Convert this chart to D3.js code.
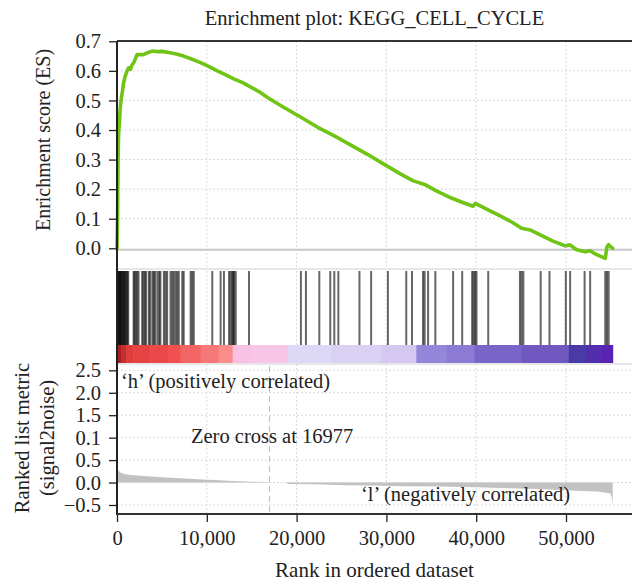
<!DOCTYPE html>
<html>
<head>
<meta charset="utf-8">
<script src="https://cdn.jsdelivr.net/npm/d3@7"></script>
<style>
  html, body { margin: 0; padding: 0; background: #fff; }
  svg { display: block; }
  text { font-family: "Liberation Serif", "DejaVu Serif", serif; fill: #222; }
</style>
</head>
<body>
<div id="chart"></div>
<script>
// ---------------- data ----------------
const title = "Enrichment plot: KEGG_CELL_CYCLE";
const totalGenes = 55200;
const zeroCross = 16977;

// running enrichment score
const esRanks = [0, 60, 120, 180, 260, 350, 450, 600, 740, 900, 1120, 1300, 1500, 1680, 1900, 2100, 2230, 2500, 2940, 3300, 3910, 4500, 5000, 5590, 6500, 7410, 8300, 9300, 10200, 11170, 12000, 13000, 14000, 14900, 15800, 16760, 18500, 20480, 22300, 24200, 26000, 27930, 29800, 31650, 33000, 34260, 35500, 37240, 38500, 39660, 39900, 41000, 42830, 44000, 45060, 46000, 47300, 48500, 49900, 50400, 51200, 52130, 52700, 53300, 54370, 54560, 54750, 55000, 55200];
const esValues = [0.0, 0.10, 0.30, 0.39, 0.42, 0.47, 0.50, 0.53, 0.56, 0.58, 0.60, 0.61, 0.605, 0.62, 0.63, 0.645, 0.655, 0.655, 0.655, 0.66, 0.667, 0.665, 0.666, 0.663, 0.658, 0.65, 0.64, 0.628, 0.615, 0.60, 0.588, 0.573, 0.56, 0.545, 0.53, 0.51, 0.478, 0.443, 0.41, 0.38, 0.35, 0.317, 0.283, 0.25, 0.228, 0.216, 0.195, 0.17, 0.155, 0.142, 0.152, 0.135, 0.107, 0.088, 0.068, 0.062, 0.043, 0.025, 0.008, 0.012, -0.005, -0.012, -0.008, -0.02, -0.034, 0.005, 0.012, 0.004, 0.0];

// gene set hit positions (rank)
const hitRanks = [30, 80, 150, 220, 300, 380, 450, 520, 600, 700, 780, 860, 950, 1050, 1150, 1250,
  1850, 1950, 2100, 2250, 2400, 2800, 2950, 3100, 3250, 3550, 3700, 3950, 4100, 4250,
  4500, 4700, 4830, 5220, 5400, 5580, 5960, 6150, 6320, 6520, 6700, 6880, 7270, 7430,
  8200, 8380, 8550, 10610, 11540, 11910, 12480, 12650, 12820, 12950, 13030, 13220, 14700,
  20480, 21040, 22530, 23750, 24200, 24650, 27000, 28300, 30170, 32210, 32850, 34080, 34260,
  34640, 35450, 37430, 38440, 39550, 39700, 39870, 40030, 41340, 44870, 45060, 45250,
  47180, 48160, 49980, 50460, 52070, 52690, 54370, 54560, 54750];

// heatmap bands of the ranked list (start rank, level: + = high, - = low)
const bandStarts = [0, 480, 1040, 1820, 3720, 5730, 7070, 9310, 11320, 12880, 14900, 19030, 23840, 29420, 33330, 36680, 39810, 45060, 50310, 52320, 54000];
const bandLevels = [10, 9, 8, 7, 6, 5, 4, 3, 2, 1, 0.5, -1, -1.5, -2, -5, -5.5, -6.5, -7, -9, -9.5, -10];

// ranked list metric (signal2noise)
const metricRanks = [0, 150, 400, 800, 1500, 3000, 5000, 7000, 9000, 10000, 11000, 12300, 13500, 15000, 16760, 16977, 18900, 19000, 22000, 25300, 28400, 32000, 36000, 40000, 43600, 47500, 51200, 53500, 54900, 55050, 55150, 55200];
const metricValues = [0.32, 0.27, 0.22, 0.19, 0.17, 0.145, 0.12, 0.095, 0.075, 0.065, 0.055, 0.04, 0.03, 0.02, 0.01, 0.0, 0.0, -0.03, -0.04, -0.06, -0.068, -0.08, -0.09, -0.105, -0.125, -0.15, -0.18, -0.2, -0.24, -0.3, -0.4, -0.52];

// axis tick labels
const esTicks = [0.0, 0.1, 0.2, 0.3, 0.4, 0.5, 0.6, 0.7];
const metricTicks = [2.5, 2.0, 1.5, 1.0, 0.5, 0.0, -0.5];
const metricTickLabels = ["2.5", "2.0", "1.5", "0.1", "0.5", "0.0", "\u22120.5"];
const rankTicks = [0, 10000, 20000, 30000, 40000, 50000];
const rankTickLabels = ["0", "10,000", "20,000", "30,000", "40,000", "50,000"];

// ---------------- layout ----------------
const W = 632, H = 586;
const L = 117, R = 632;
const topY0 = 41, topY1 = 268;      // ES panel
const barY0 = 271, barY1 = 345;     // hit barcode
const heatY0 = 345, heatY1 = 363;   // heatmap
const botY0 = 364, botY1 = 514;     // metric panel
const FS = 20.5;

const svg = d3.select("#chart").append("svg").attr("width", W).attr("height", H);

const x = d3.scaleLinear().domain([0, 50000]).range([L, 566]);
const yES = d3.scaleLinear().domain([0, 0.7]).range([248.3, 41.3]);
const yM = d3.scaleLinear().domain([-0.5, 2.5]).range([505, 370.3]);

const heatColor = d3.scaleLinear()
  .domain([-10, -9, -7, -5, -2, -1, 0, 0.5, 1, 2, 5, 8, 10])
  .range(["#5a22b2", "#4a3aa6", "#7058c0", "#9486da", "#d4c8f0", "#ddd8f6", "#f0d0ec", "#f7c6e6", "#f8c0e2", "#fa8c8c", "#f05050", "#e03c3c", "#a82020"]);

const gridColor = "#dadada";

// ---------------- grids ----------------
const grid = svg.append("g");
rankTicks.slice(1).forEach(r => {
  [[topY0, topY1], [barY0, barY1], [botY0, botY1]].forEach(([a, b]) => {
    grid.append("line").attr("x1", x(r)).attr("x2", x(r)).attr("y1", a).attr("y2", b)
      .attr("stroke", gridColor).attr("stroke-width", 1).attr("stroke-dasharray", "2,2");
  });
});
esTicks.slice(1, -1).forEach(v => {
  grid.append("line").attr("x1", L).attr("x2", R).attr("y1", yES(v)).attr("y2", yES(v))
    .attr("stroke", gridColor).attr("stroke-width", 1).attr("stroke-dasharray", "2,2");
});
metricTicks.forEach(v => {
  grid.append("line").attr("x1", L).attr("x2", R).attr("y1", yM(v)).attr("y2", yM(v))
    .attr("stroke", gridColor).attr("stroke-width", 1).attr("stroke-dasharray", "2,2");
});

// ES zero line
svg.append("line").attr("x1", L).attr("x2", R).attr("y1", yES(0) + 1.5).attr("y2", yES(0) + 1.5)
  .attr("stroke", "#c8c8c8").attr("stroke-width", 2);

// panel separators
[topY1 + 1, heatY1 + 1].forEach(yy => {
  svg.append("line").attr("x1", L).attr("x2", R).attr("y1", yy).attr("y2", yy)
    .attr("stroke", "#cfcfcf").attr("stroke-width", 1.2);
});

// ---------------- ES curve ----------------
const esData = esRanks.map((r, i) => [r, esValues[i]]);
svg.append("path").datum(esData)
  .attr("d", d3.line().x(d => x(d[0])).y(d => yES(d[1])))
  .attr("fill", "none").attr("stroke", "#6fc416").attr("stroke-width", 3.6)
  .attr("stroke-linejoin", "round").attr("stroke-linecap", "round");

// ---------------- hits ----------------
svg.append("g").selectAll("line").data(hitRanks).join("line")
  .attr("x1", d => x(d)).attr("x2", d => x(d)).attr("y1", barY0).attr("y2", barY1)
  .attr("stroke", "#000").attr("stroke-opacity", 0.6).attr("stroke-width", 2);

// ---------------- heatmap ----------------
svg.append("g").selectAll("rect").data(bandStarts).join("rect")
  .attr("x", d => x(d))
  .attr("width", (d, i) => x(i + 1 < bandStarts.length ? bandStarts[i + 1] : totalGenes) - x(d) + 0.5)
  .attr("y", heatY0).attr("height", heatY1 - heatY0)
  .attr("fill", (d, i) => heatColor(bandLevels[i]));

// ---------------- metric ----------------
const mData = metricRanks.map((r, i) => [r, metricValues[i]]);
svg.append("path").datum(mData)
  .attr("d", d3.area().x(d => x(d[0])).y0(yM(0)).y1(d => yM(d[1])))
  .attr("fill", "#c2c2c2");

// zero cross line
svg.append("line").attr("x1", x(zeroCross)).attr("x2", x(zeroCross))
  .attr("y1", botY0 + 2).attr("y2", botY1)
  .attr("stroke", "#bdbdbd").attr("stroke-width", 1).attr("stroke-dasharray", "6,4");

// ---------------- axes ----------------
const esAxis = d3.axisLeft(yES).tickValues(esTicks).tickFormat(d3.format(".1f")).tickSize(8).tickPadding(8);
const gES = svg.append("g").attr("transform", `translate(${L},0)`).call(esAxis);
const mAxis = d3.axisLeft(yM).tickValues(metricTicks).tickFormat((d, i) => metricTickLabels[i]).tickSize(8).tickPadding(8);
const gM = svg.append("g").attr("transform", `translate(${L},0)`).call(mAxis);
const xAxis = d3.axisBottom(x).tickValues(rankTicks).tickFormat((d, i) => rankTickLabels[i]).tickSize(8).tickPadding(5);
const gX = svg.append("g").attr("transform", `translate(0,${botY1})`).call(xAxis);

[gES, gM, gX].forEach(g => {
  g.select(".domain").remove();
  g.selectAll(".tick line").attr("stroke", "#222").attr("stroke-width", 1.3);
  g.selectAll(".tick text").attr("font-size", FS).attr("fill", "#222")
    .attr("font-family", "Liberation Serif, DejaVu Serif, serif");
});
gX.selectAll(".tick text").attr("dy", "0.9em");

// frame lines
svg.append("line").attr("x1", L).attr("x2", R).attr("y1", topY0).attr("y2", topY0)
  .attr("stroke", "#333").attr("stroke-width", 1.8);
svg.append("line").attr("x1", L).attr("x2", L).attr("y1", topY0).attr("y2", botY1 + 1)
  .attr("stroke", "#222").attr("stroke-width", 2);
svg.append("line").attr("x1", L).attr("x2", R).attr("y1", botY1).attr("y2", botY1)
  .attr("stroke", "#333").attr("stroke-width", 2);

// ---------------- text ----------------
svg.append("text").attr("x", 374.5).attr("y", 25).attr("text-anchor", "middle")
  .attr("font-size", 20.5).text(title);

svg.append("text").attr("transform", "translate(50,140) rotate(-90)").attr("text-anchor", "middle")
  .attr("font-size", 20).text("Enrichment score (ES)");

svg.append("text").attr("transform", "translate(29,438) rotate(-90)").attr("text-anchor", "middle")
  .attr("font-size", 20.5).text("Ranked list metric");
svg.append("text").attr("transform", "translate(54,438) rotate(-90)").attr("text-anchor", "middle")
  .attr("font-size", 20.5).text("(signal2noise)");

svg.append("text").attr("x", 374.5).attr("y", 577).attr("text-anchor", "middle")
  .attr("font-size", 21).text("Rank in ordered dataset");

svg.append("text").attr("x", 121).attr("y", 388).attr("font-size", FS).text("\u2018h\u2019 (positively correlated)");
svg.append("text").attr("x", 191).attr("y", 443).attr("font-size", FS).text("Zero cross at 16977");
svg.append("text").attr("x", 361).attr("y", 501).attr("font-size", FS).text("\u2018l\u2019 (negatively correlated)");
</script>
</body>
</html>
